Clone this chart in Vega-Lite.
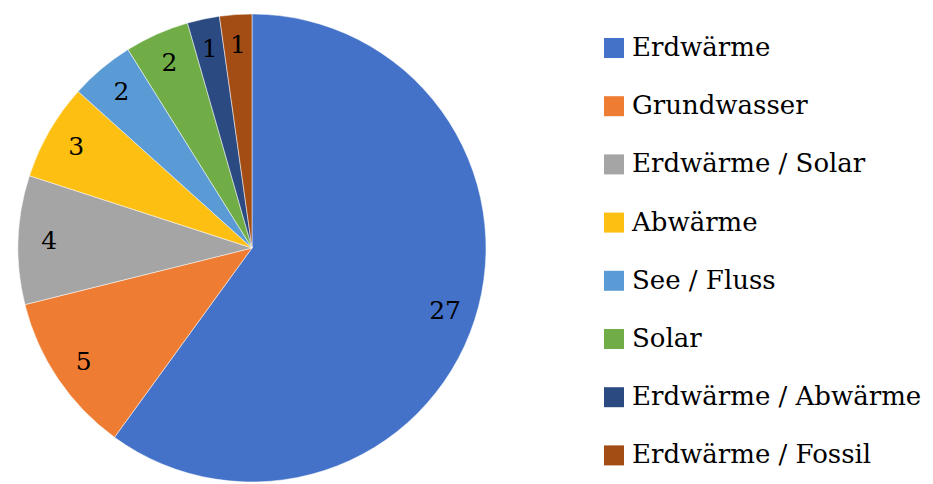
{
  "$schema": "https://vega.github.io/schema/vega-lite/v6.json",
  "width": 504,
  "height": 484,
  "autosize": {"type": "none"},
  "padding": {"left": 0, "top": 6, "right": 429, "bottom": 0},
  "background": "white",
  "config": {"view": {"stroke": null}, "font": "DejaVu Serif"},
  "data": {
    "values": [
      {"idx": 1, "kategorie": "Erdwärme", "anzahl": 27},
      {"idx": 2, "kategorie": "Grundwasser", "anzahl": 5},
      {"idx": 3, "kategorie": "Erdwärme / Solar", "anzahl": 4},
      {"idx": 4, "kategorie": "Abwärme", "anzahl": 3},
      {"idx": 5, "kategorie": "See / Fluss", "anzahl": 2},
      {"idx": 6, "kategorie": "Solar", "anzahl": 2},
      {"idx": 7, "kategorie": "Erdwärme / Abwärme", "anzahl": 1},
      {"idx": 8, "kategorie": "Erdwärme / Fossil", "anzahl": 1}
    ]
  },
  "encoding": {
    "theta": {"field": "anzahl", "type": "quantitative", "stack": true},
    "order": {"field": "idx", "type": "quantitative"}
  },
  "layer": [
    {
      "mark": {"type": "arc", "outerRadius": 234, "stroke": "white", "strokeWidth": 0.5},
      "encoding": {
        "color": {
          "field": "kategorie",
          "type": "nominal",
          "sort": null,
          "scale": {
            "domain": ["Erdwärme", "Grundwasser", "Erdwärme / Solar", "Abwärme", "See / Fluss", "Solar", "Erdwärme / Abwärme", "Erdwärme / Fossil"],
            "range": ["#4472c8", "#ee7d33", "#a5a5a5", "#fcbf12", "#5b9bd5", "#70ad47", "#2b4a82", "#a34c14"]
          },
          "legend": {
            "title": null,
            "orient": "none",
            "legendX": 601,
            "legendY": 29,
            "padding": 0,
            "symbolType": "square",
            "symbolSize": 400,
            "symbolStrokeWidth": 0,
            "labelFontSize": 26,
            "labelFont": "DejaVu Serif",
            "labelColor": "#000000",
            "labelOffset": 5,
            "labelLimit": 400,
            "rowPadding": 32.2
          }
        }
      }
    },
    {
      "mark": {"type": "text", "radius": 203, "fontSize": 25, "font": "DejaVu Serif", "color": "#000000"},
      "encoding": {
        "text": {"field": "anzahl", "type": "quantitative"}
      }
    }
  ]
}
